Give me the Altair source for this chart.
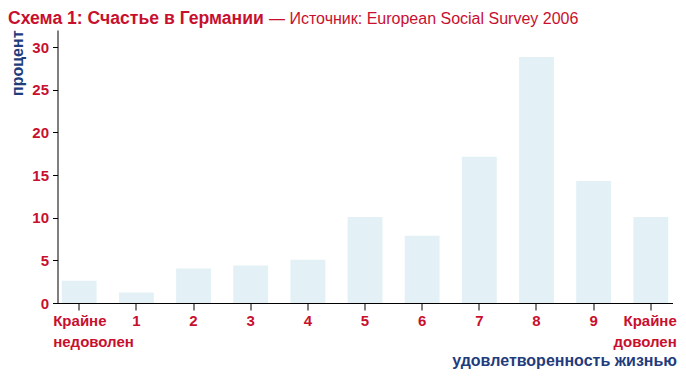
import altair as alt
import pandas as pd

# ---- data ----
levels = ["Крайне|недоволен", "1", "2", "3", "4", "5", "6", "7", "8", "9", "Крайне|доволен"]
percent = [2.6, 1.24, 4.05, 4.4, 5.06, 10.09, 7.87, 17.14, 28.83, 14.3, 10.09]
y_ticks = [0, 5, 10, 15, 20, 25, 30]
title_main = ["Схема 1: Счастье в Германии"]
title_source = ["— Источник: European Social Survey 2006"]
x_title = "удовлетворенность жизнью"
y_title = "процент"

RED = "#c8102e"
NAVY = "#1f3c7c"
BAR = "#e3f1f6"
FONT = "Liberation Sans"

df = pd.DataFrame({"level": levels, "pct": percent})

bars = alt.Chart(df).mark_bar(color=BAR).encode(
    x=alt.X(
        "level:N",
        sort=levels,
        scale=alt.Scale(paddingInner=0.39, paddingOuter=0.075),
        axis=alt.Axis(
            title=x_title,
            labelExpr="split(datum.value, '|')",
            labelAngle=0,
            labelAlign={"expr": "datum.index == 0 ? 'left' : datum.index == 1 ? 'right' : 'center'"},
            labelOffset={"expr": "datum.index == 0 ? -26 : datum.index == 1 ? 26 : 0"},
            labelColor=RED,
            labelFont=FONT,
            labelFontSize=15,
            labelFontWeight="bold",
            labelLineHeight=21.5,
            labelPadding=3,
            tickColor="black",
            tickSize=7,
            domainColor="black",
            titleColor=NAVY,
            titleFont=FONT,
            titleFontSize=16,
            titleFontWeight="bold",
            titleAnchor="end",
            titleAlign="right",
            titleBaseline="alphabetic",
            titleX=619,
            titleY=62,
            grid=False,
        ),
    ),
    y=alt.Y(
        "pct:Q",
        scale=alt.Scale(domain=[0, 32], nice=False, zero=True),
        axis=alt.Axis(
            title=y_title,
            values=y_ticks,
            labelColor=RED,
            labelFont=FONT,
            labelFontSize=15,
            labelFontWeight="bold",
            labelPadding=4,
            tickColor="black",
            tickSize=5,
            domainColor="black",
            titleColor=NAVY,
            titleFont=FONT,
            titleFontSize=16,
            titleFontWeight="bold",
            titleAngle=270,
            titleAlign="right",
            titleBaseline="middle",
            titleX=-40,
            titleY=0,
            grid=False,
        ),
    ),
)

t1 = alt.Chart(pd.DataFrame({"t": title_main})).mark_text(
    font=FONT, fontSize=17.6, fontWeight="bold", color=RED, align="left", baseline="alphabetic"
).encode(text="t:N", x=alt.value(-49.5), y=alt.value(-6))

t2 = alt.Chart(pd.DataFrame({"t": title_source})).mark_text(
    font=FONT, fontSize=16, color=RED, align="left", baseline="alphabetic"
).encode(text="t:N", x=alt.value(211.5), y=alt.value(-6))

chart = (
    alt.layer(bars, t1, t2)
    .properties(
        width=615,
        height=273,
        autosize=alt.AutoSizeParams(type="none"),
        padding={"left": 49.5, "top": 22, "right": 5.5, "bottom": 66},
        background="white",
    )
    .configure_view(stroke=None)
)

chart.save("out.html", embed_options={"renderer": "svg", "actions": False})
